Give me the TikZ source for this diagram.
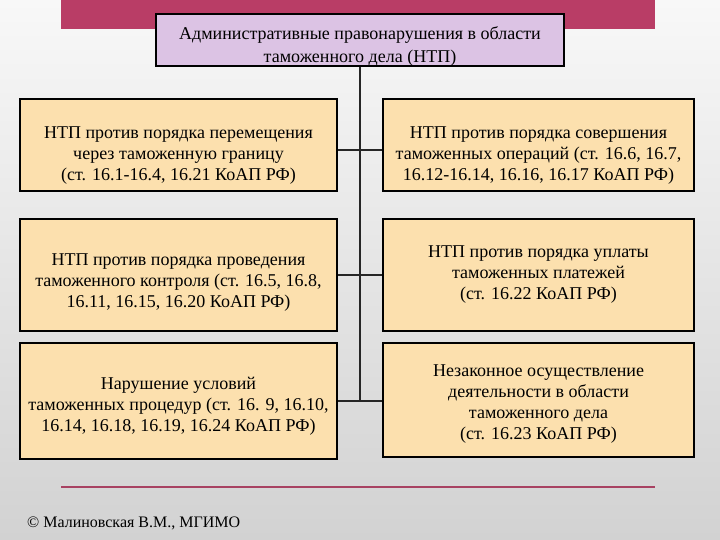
\documentclass[tikz,border=0pt]{standalone}
\usepackage{fontspec}
\setmainfont{Liberation Serif}
\definecolor{barcol}{HTML}{B93D66}
\definecolor{linecol}{HTML}{A84262}
\definecolor{boxfill}{HTML}{FCE0AE}
\definecolor{topfill}{HTML}{DCC3E4}
\definecolor{bgtop}{HTML}{F8F8F8}
\definecolor{bgbot}{HTML}{D2D2D2}
\newcommand{\dn}[1]{\rule{0pt}{#1pt}}
\begin{document}
\begin{tikzpicture}[x=1pt,y=-1pt,
  box/.style={draw=black, line width=1.4pt, fill=boxfill, align=center,
    font=\fontsize{18}{21}\selectfont, inner sep=0pt},
  topbox/.style={box, fill=topfill, line width=1.8pt, font=\fontsize{18}{22.5}\selectfont},
  conn/.style={draw=black!85, line width=1.3pt}]
\useasboundingbox (0,0) rectangle (720,540);
\shade[top color=bgtop, bottom color=bgbot] (0,0) rectangle (720,540);
\fill[barcol] (61,0) rectangle (655,29);
\node[topbox, minimum width=408, minimum height=52] (top) at (360,40)
  {\dn{26}Административные правонарушения в области\\таможенного дела (НТП)};
% left column
\node[box, minimum width=317, minimum height=92] (l1) at (178.5,145)
  {\dn{33}НТП против порядка перемещения\\через таможенную границу\\(ст. 16.1-16.4, 16.21 КоАП РФ)};
\node[box, minimum width=317, minimum height=112] (l2) at (178.5,275)
  {\dn{26}НТП против порядка проведения\\таможенного контроля (ст. 16.5, 16.8,\\16.11, 16.15, 16.20 КоАП РФ)};
\node[box, minimum width=317, minimum height=116] (l3) at (178.5,401)
  {\dn{22}Нарушение условий\\таможенных процедур (ст. 16. 9, 16.10,\\16.14, 16.18, 16.19, 16.24 КоАП РФ)};
% right column
\node[box, minimum width=311, minimum height=92] (r1) at (538.5,145)
  {\dn{33}НТП против порядка совершения\\таможенных операций (ст. 16.6, 16.7,\\16.12-16.14, 16.16, 16.17 КоАП РФ)};
\node[box, minimum width=311, minimum height=112] (r2) at (538.5,275)
  {НТП против порядка уплаты\\таможенных платежей\\(ст. 16.22 КоАП РФ)};
\node[box, minimum width=311, minimum height=114] (r3) at (538.5,400)
  {\dn{20}Незаконное осуществление\\деятельности в области\\таможенного дела\\(ст. 16.23 КоАП РФ)};
% connectors
\coordinate (j1) at (360,150);
\coordinate (j2) at (360,275);
\coordinate (j3) at (360,401);
\draw[conn] (top.south) -- (j3);
\draw[conn] (l1.east |- j1) -- (r1.west |- j1);
\draw[conn] (l2.east |- j2) -- (r2.west |- j2);
\draw[conn] (l3.east |- j3) -- (r3.west |- j3);
% bottom line and footer
\draw[linecol, line width=2.6pt] (61,487) -- (655,487);
\node[anchor=west, inner sep=0pt, font=\fontsize{16}{18}\selectfont] (copy) at (27,523)
  {© Малиновская В.М., МГИМО};
\end{tikzpicture}
\end{document}
